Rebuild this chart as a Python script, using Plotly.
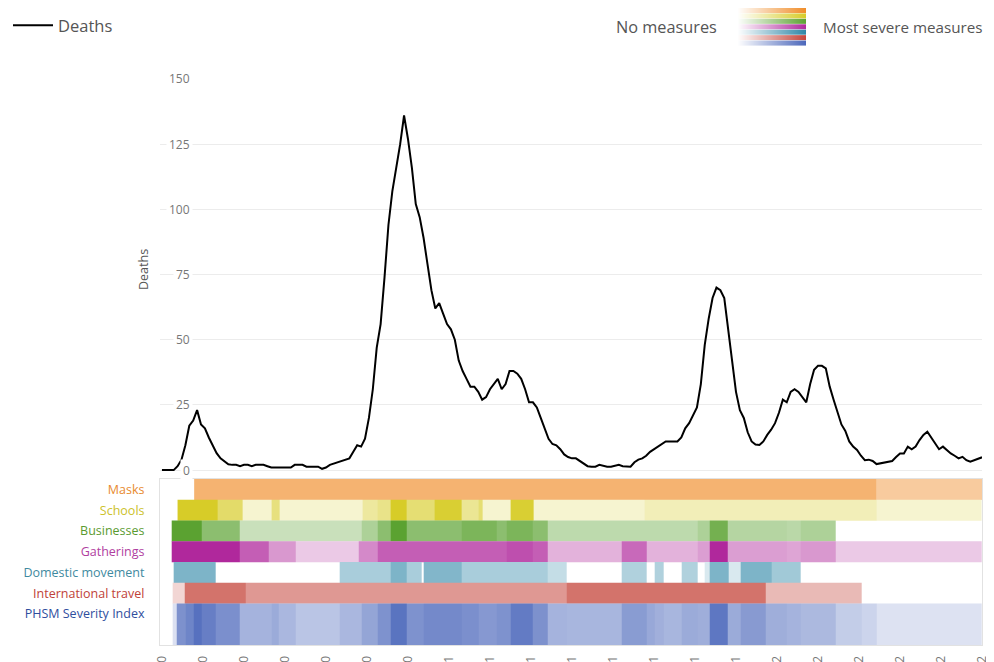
import pandas as pd
import plotly.graph_objects as go

# ---------------- data ----------------
start_date = pd.Timestamp("2020-04-15")
step_days = 4

deaths = [
    0, 0, 0, 0, 1.5, 4, 9.5, 17, 19, 23,
    17.5, 16, 12.5, 9.5, 6.5, 4.5, 3.2, 2.2, 2, 2,
    1.5, 2, 2, 1.5, 2, 2, 2, 1.5, 1, 1,
    1, 1, 1, 1, 2, 2, 2, 1.3, 1.3, 1.3,
    1.3, 0.5, 1, 2, 2.5, 2.7, 3.5, 4, 4.5, 7,
    9.5, 9, 12, 20, 31, 47, 56, 74, 94, 107,
    116, 125, 136, 127, 116, 102, 97, 89, 79, 69,
    62, 64, 60, 56, 54, 50, 42, 38, 35, 32,
    32, 30, 27, 28, 31, 33, 35, 31, 33, 38,
    38, 37, 35, 31, 26, 26, 24, 20, 16, 12,
    10, 9.5, 8, 6, 5, 4.5, 4.5, 3.5, 2.5, 1.5,
    1.3, 1.3, 2, 1.5, 1.3, 1.3, 1.8, 2, 1.5, 1.3,
    1.3, 3, 4, 4.5, 5.5, 7, 8, 9, 10, 11,
    11, 11, 11, 12.5, 16, 18, 21, 24, 33, 48,
    58, 66, 70, 69, 66, 53, 42, 30, 23, 20,
    14.5, 11, 9.8, 9.6, 11, 13.5, 15.5, 18, 22, 27,
    26, 30, 31, 30, 28, 26, 33, 38.5, 40, 40,
    39, 32, 27, 22, 17.5, 15, 11, 9, 7.7, 5.5,
    3.8, 4, 3.5, 2.3, 2.6, 2.8, 3.2, 3.5, 5, 6.4,
    6.4, 9, 8, 9, 11.5, 13.5, 14.7, 12.5, 10.5, 8,
    9, 7.7, 6.4, 5.5, 4.5, 5.1, 3.8, 3.2, 3.8, 4.5, 4.9,
]

y_ticks = [0, 25, 50, 75, 100, 125, 150]
n_date_ticks = 21
date_tick_step_days = 42
end_day = 840

# measures: change-point days (from start_date) and level within each span
masks_edges = [33, 732, 840]
masks_vals = [0.66, 0.45]

schools_edges = [16, 57, 83, 112, 120, 205, 221, 234, 251, 279, 307, 324, 328, 357, 381, 494, 732, 840]
schools_vals = [1.0, 0.7, 0.22, 0.6, 0.22, 0.45, 0.55, 1.0, 0.65, 0.95, 0.5, 0.65, 0.22, 0.95, 0.22, 0.33, 0.22]

business_edges = [10, 41, 80, 205, 221, 234, 251, 307, 343, 353, 380, 395, 549, 561, 580, 640, 654, 690]
business_vals = [1.0, 0.7, 0.33, 0.5, 0.7, 1.0, 0.7, 0.8, 0.7, 0.8, 0.7, 0.4, 0.5, 0.85, 0.45, 0.42, 0.5]

gather_edges = [10, 80, 109, 137, 202, 221, 353, 380, 395, 471, 497, 549, 561, 580, 640, 654, 690, 840]
gather_vals = [1.0, 0.75, 0.48, 0.25, 0.55, 0.75, 0.82, 0.75, 0.36, 0.7, 0.36, 0.45, 1.0, 0.45, 0.42, 0.48, 0.25]

domestic_edges = [12, 55, 182, 234, 251, 266, 268, 307, 395, 415, 471, 497, 505, 514, 532, 549, 556, 561, 580, 593, 625, 654]
domestic_vals = [0.62, None, 0.41, 0.62, 0.41, None, 0.6, 0.41, 0.28, None, 0.38, None, 0.38, None, 0.38, None,
                 0.18, 0.62, 0.18, 0.62, 0.45]

travel_edges = [11, 23, 86, 415, 618, 717]
travel_vals = [0.22, 0.75, 0.55, 0.75, 0.37]

phsm_edges = [11, 15, 24, 33, 41, 55, 80, 112, 120, 137, 182, 205, 221, 234, 251, 268, 307, 324, 343, 357,
              380, 395, 415, 471, 497, 505, 514, 532, 549, 561, 580, 593, 618, 640, 654, 690, 717, 732, 840]
phsm_vals = [20, 72, 80, 93, 84, 73, 50, 55, 47, 38, 47, 59, 71, 91, 71, 77, 73, 67, 71, 86,
             72, 50, 48, 65, 57, 52, 48, 55, 53, 89, 55, 66, 53, 50, 46, 33, 28, 19]

row_names = ["Masks", "Schools", "Businesses", "Gatherings", "Domestic movement",
             "International travel", "PHSM Severity Index"]
row_label_colors = ["#E88A2E", "#CCC22A", "#5A9A30", "#B0409F", "#3F8AA0", "#C04238", "#2F4E9E"]
row_base_colors = ["rgb(240,140,40)", "rgb(215,204,40)", "rgb(91,162,49)", "rgb(176,40,156)",
                   "rgb(46,134,166)", "rgb(196,68,58)", "rgb(74,102,186)"]
row_edges = [masks_edges, schools_edges, business_edges, gather_edges, domestic_edges, travel_edges, phsm_edges]
row_vals = [masks_vals, schools_vals, business_vals, gather_vals, domestic_vals, travel_vals, phsm_vals]
row_zmax = [1, 1, 1, 1, 1, 1, 100]
row_bands = [(7, 8), (6, 7), (5, 6), (4, 5), (3, 4), (2, 3), (0, 2)]
row_label_pos = [7.5, 6.5, 5.5, 4.5, 3.5, 2.5, 1.5]

# ---------------- figure ----------------
W, H = 994, 662
OFF = 8  # page body margin
FONT = "Open Sans"

def px(v):
    return min(1.0, max(0.0, (v - OFF) / W))

def py(v):
    return min(1.0, max(0.0, 1 - (v - OFF) / H))

def day(d):
    return start_date + pd.Timedelta(days=d)

dates = pd.date_range(start_date, periods=len(deaths), freq=f"{step_days}D")
x_range = [day(-2), day(end_day)]
tick_dates = [day(date_tick_step_days * i) for i in range(n_date_ticks)]

fig = go.Figure()

fig.add_trace(go.Scatter(
    x=dates, y=deaths, mode="lines", name="Deaths",
    line=dict(color="black", width=2), xaxis="x", yaxis="y",
    hoverinfo="x+y"))

for i, name in enumerate(row_names):
    lo, hi = row_bands[i]
    fig.add_trace(go.Heatmap(
        x=[day(d) for d in row_edges[i]], y=[lo, hi], z=[row_vals[i]],
        colorscale=[[0, "rgb(255,255,255)"], [1, row_base_colors[i]]],
        zmin=0, zmax=row_zmax[i], showscale=False, hoverinfo="skip",
        xaxis="x2", yaxis="y2", name=name, showlegend=False))

# colour legend (gradient from no measures to most severe)
for i in range(len(row_names)):
    yi = len(row_names) - 1 - i
    fig.add_trace(go.Heatmap(
        x=[0, 1], y=[yi + 0.25, yi + 0.75], z=[[0, 1], [0, 1]], zsmooth="best",
        colorscale=[[0, "rgb(255,255,255)"], [1, row_base_colors[i]]],
        zmin=0, zmax=1, showscale=False, hoverinfo="skip",
        xaxis="x3", yaxis="y3", showlegend=False))

annotations = []
for v in y_ticks:
    annotations.append(dict(
        x=px(193), xref="paper", xanchor="right", y=v, yref="y", yanchor="middle",
        text=str(v), showarrow=False, bgcolor="white", borderpad=2,
        font=dict(family=FONT, size=12, color="#777")))
annotations.append(dict(
    x=px(144), xref="paper", xanchor="center", y=py(270), yref="paper", yanchor="middle",
    text="Deaths", textangle=-90,
    showarrow=False, font=dict(family=FONT, size=12.5, color="#555")))
annotations.append(dict(
    x=px(719), xref="paper", xanchor="right", y=py(27), yref="paper", yanchor="middle",
    text="No measures", showarrow=False, font=dict(family=FONT, size=16.3, color="#555")))
annotations.append(dict(
    x=px(821), xref="paper", xanchor="left", y=py(27), yref="paper", yanchor="middle",
    text="Most severe measures", showarrow=False, font=dict(family=FONT, size=15.2, color="#555")))

ticktext_rows = [f'<span style="color:{c}">{n}</span>' for n, c in zip(row_names, row_label_colors)]

fig.update_layout(
    width=W, height=H,
    margin=dict(l=0, r=0, t=0, b=0),
    paper_bgcolor="white", plot_bgcolor="white",
    font=dict(family=FONT, color="#555"),
    showlegend=True,
    legend=dict(x=px(7), y=py(8), xanchor="left", yanchor="top", itemwidth=40,
                font=dict(family=FONT, size=16.5, color="#555"),
                bgcolor="rgba(0,0,0,0)"),
    xaxis=dict(domain=[px(160), px(982)], range=x_range, type="date", anchor="y",
               showticklabels=False, showgrid=False, zeroline=False, showline=False,
               automargin=False),
    yaxis=dict(domain=[py(474), py(79)], range=[-1.5, 150], anchor="x",
               tickvals=y_ticks, showticklabels=False, showgrid=True, gridcolor="#ececec",
               gridwidth=1, zeroline=False, showline=False, automargin=False),
    xaxis2=dict(domain=[px(160), px(982)], range=x_range, type="date", anchor="y2",
                tickvals=tick_dates, tickformat="%d %b %Y", tickangle=-90,
                tickfont=dict(family=FONT, size=12, color="#777"),
                ticks="outside", ticklen=5, tickcolor="rgba(0,0,0,0)",
                showgrid=False, zeroline=False, showline=True, mirror=True,
                linecolor="#e2e2e2", linewidth=1, automargin=False),
    yaxis2=dict(domain=[py(645), py(479)], range=[0, 8], anchor="x2",
                tickvals=row_label_pos, ticktext=ticktext_rows,
                tickfont=dict(family=FONT, size=12.5),
                ticks="outside", ticklen=12, tickcolor="rgba(0,0,0,0)",
                showgrid=False, zeroline=False, showline=True, mirror=True,
                linecolor="#e2e2e2", linewidth=1, automargin=False),
    xaxis3=dict(domain=[px(737), px(806)], range=[0, 1], anchor="y3", visible=False),
    yaxis3=dict(domain=[py(46), py(8)], range=[0, 7], anchor="x3", visible=False),
    annotations=annotations,
)

fig.write_html("out.html")
